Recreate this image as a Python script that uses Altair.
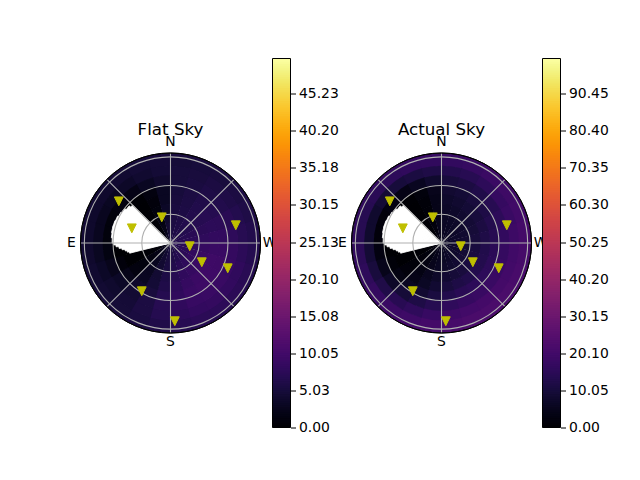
import altair as alt
import numpy as np
import pandas as pd

PX = 90 / 94  # pixels per degree of sky
PW, PH = 252, 369
FONT = "DejaVu Sans"

sector_edges = list(range(0, 361, 15))
ring_edges = [0, 10, 20, 30, 40, 50, 60, 70, 80, 90, 94]

flat_sky = [
 [5.6,5.8,6,6.2,6.4,6.6,6.6,6.6,6.4,6.2,6,5.6,5,4.4,3.6,2.6,1.5,.5,.3,.3,.5,1.5,3,4.6],
 [5.7,6,6.2,6.6,7,7.2,7.4,7.6,7.4,7,6.6,6,5.2,4.2,3.2,1.8,.6,.1,0,0,0,.4,2,4.2],
 [5.6,6,6.4,6.8,7.2,7.6,8,8.2,8.2,7.8,7.2,6.4,5.4,4.2,2.8,1.2,.2,0,0,0,0,.2,1.4,3.8],
 [5.4,5.8,6.4,6.9,7.4,7.9,8.6,9,9,8.6,8,7,5.8,4.4,2.8,1,0,0,0,0,0,.1,1,3.4],
 [5.2,5.7,6.3,7,7.6,8.2,9,9.6,9.6,9.2,8.6,7.6,6.2,4.6,3,1.2,0,0,0,0,0,0,.8,3],
 [5,5.6,6.2,6.8,7.5,8.2,9,9.4,9.6,9.4,9,8,6.8,5.2,3.8,2.2,.8,0,0,0,0,.1,1.2,3],
 [5,5.4,5.9,6.4,7.2,7.8,8.4,8.8,9,9,8.8,8,7,5.6,4.4,3.4,2.4,1.4,.9,.9,1.2,1.8,3,3.9],
 [5,5.2,5.6,6,6.6,7,7.6,8,8.2,8.4,8.2,7.6,6.8,5.6,4.7,4,3.4,2.9,2.7,2.7,3,3.5,4.1,4.6],
 [4.8,5,5.2,5.6,6,6.4,6.8,7.2,7.4,7.6,7.4,7,6.2,5.4,4.8,4.4,4.1,3.9,3.8,3.8,3.9,4.2,4.5,4.7],
 [5.2,5.4,5.6,5.8,6,6.2,6.4,6.6,6.7,6.8,6.8,6.6,6,5.6,5.2,5,4.8,4.6,4.5,4.5,4.6,4.8,5,5.1],
]
actual_sky = [
 [6,6,6,6.4,6.6,6.8,6.8,6.8,6.6,6.4,6.2,6,5.4,4.8,4,3,1.6,.4,.2,.2,.4,1.6,3.4,5],
 [6.2,6.4,6.8,7,7.4,7.6,7.8,7.8,7.6,7.4,7,6.4,5.6,4.6,3.4,2,.6,.1,0,0,0,.4,2.2,4.6],
 [6.4,6.8,7.2,7.8,8.2,8.6,8.8,9,9,8.6,8,7.2,6,4.8,3.2,1.4,.2,0,0,0,0,.2,1.6,4.4],
 [6.8,7.4,8.2,9,9.6,10.2,10.6,10.8,10.8,10.4,9.6,8.6,7.2,5.4,3.4,1.2,0,0,0,0,0,.1,1.2,4.2],
 [7.4,8.2,9.2,10.2,11.2,12,12.6,13,13,12.6,11.8,10.4,8.6,6.4,4,1.6,0,0,0,0,0,0,1,4.2],
 [8.4,9.2,10.4,11.8,13,14,14.8,15.2,15.4,15.2,14.4,12.8,10.8,8.4,6,3,1,0,0,0,0,.2,1.8,4.8],
 [10.2,11.2,12.4,14,15.4,16.4,17.2,17.8,18,17.8,17.2,15.8,13.8,11.8,9.6,7,4.6,2.6,1.6,1.6,2.6,3.6,5.6,8],
 [13,14,15.4,17,18,18.8,19.6,20,20.4,20.4,20,19,17.6,15.8,14.2,12.2,10.4,9,8,8,9,10,11,12],
 [16.4,17.2,18.2,19,19.8,20.4,21,21.4,21.8,22,21.8,21.2,20.4,19.2,18.2,16.8,15.6,14.8,14,14,14.6,15.4,16,16.2],
 [17.6,18,18.6,19.2,19.8,20.4,20.8,21.2,21.6,22,22,21.6,20.8,20,19,18,17,16.4,16,16,16.4,16.8,17,17.2],
]

hole_edges = [256, 258, 260, 262, 264, 266, 268, 270, 275, 280, 285, 290, 295, 300, 305, 310, 315]
hole_reach = [44, 46, 48, 51, 54, 57, 59.5, 61, 62, 62.5, 62.5, 62, 61, 60, 58, 56]

marker_x = [-54, -40.4, -9.1, 20.1, 32.7, 59.8, 68.2, -30, 4.5]
marker_y = [43.5, 15.3, 26.8, -3.4, -20.1, -26.4, 18.5, -50.4, -81.7]

grid_rings = [30, 60, 90]
spoke_bearings = [0, 45, 90, 135, 180, 225, 270, 315]
horizon = 94

compass_text = ["N", "E", "S", "W"]
compass_x = [0, -103.5, 0, 103.5]
compass_y = [105, 0, -103, 0]
flat_ticks = [0.00, 5.03, 10.05, 15.08, 20.10, 25.13, 30.15, 35.18, 40.20, 45.23]
actual_ticks = [0.00, 10.05, 20.10, 30.15, 40.20, 50.25, 60.30, 70.35, 80.40, 90.45]


def sky_cells(table):
    rows = []
    for i, row in enumerate(table):
        for j, v in enumerate(row):
            rows.append(dict(r1=ring_edges[i], r2=ring_edges[i + 1],
                             t1=sector_edges[j], t2=sector_edges[j + 1], v=v))
    df = pd.DataFrame(rows)
    # slight overlap so that no seams show between neighbouring cells
    df["t2"] = df["t2"] + 0.8
    df["r2"] = np.minimum(df["r2"] + 0.8, horizon)
    return df.sort_values(["r1"], ascending=False, kind="mergesort")


THETA = alt.Scale(domain=[0, 360], range=[0, 2 * np.pi])
RAD = alt.Scale(domain=[0, horizon], range=[0, 90])
Y_SCALE = alt.Scale(domain=[-(PH / 2) / PX, (PH / 2) / PX], nice=False, zero=False)
TRI = "M-1,-1L1,-1L0,1Z"


def panel(title, table, top, cx):
    xs = alt.Scale(domain=[-cx / PX, (PW - cx) / PX], nice=False, zero=False)
    X = lambda f: alt.X(f, type="quantitative", scale=xs, axis=None)
    Y = lambda f: alt.Y(f, type="quantitative", scale=Y_SCALE, axis=None)
    centre = dict(x=alt.X(datum=0, type="quantitative", scale=xs, axis=None),
                  y=alt.Y(datum=0, type="quantitative", scale=Y_SCALE, axis=None))
    cscale = alt.Scale(scheme="inferno", domain=[0, top])

    cells = alt.Chart(sky_cells(table)).mark_arc().encode(
        theta=alt.Theta("t1:Q", scale=THETA), theta2="t2:Q",
        radius=alt.Radius("r1:Q", scale=RAD), radius2="r2:Q",
        color=alt.Color("v:Q", scale=cscale, legend=None),
        **centre)

    hole_df = pd.DataFrame(dict(t1=hole_edges[:-1], t2=hole_edges[1:], r1=0, r2=hole_reach))
    hole_df["t2"] = np.minimum(hole_df["t2"] + 2, hole_edges[-1])
    hole = alt.Chart(hole_df).mark_arc(color="white", stroke="white", strokeWidth=0.8).encode(
        theta=alt.Theta("t1:Q", scale=THETA), theta2="t2:Q",
        radius=alt.Radius("r1:Q", scale=RAD), radius2="r2:Q", **centre)

    rings = alt.Chart(pd.DataFrame(dict(r=grid_rings))).mark_arc(
        theta=0, theta2=2 * np.pi, fillOpacity=0, stroke="#b0b0b0", strokeWidth=1.1).encode(
        radius=alt.Radius("r:Q", scale=RAD), radius2="r:Q", **centre)

    rim = alt.Chart(pd.DataFrame(dict(r=[horizon]))).mark_arc(
        theta=0, theta2=2 * np.pi, fillOpacity=0, stroke="black", strokeWidth=1).encode(
        radius=alt.Radius("r:Q", scale=RAD), radius2="r:Q", **centre)

    b = np.radians(spoke_bearings)
    spokes = alt.Chart(pd.DataFrame(dict(x0=0, y0=0, x1=horizon * np.sin(b), y1=horizon * np.cos(b)))).mark_rule(
        color="#b0b0b0", strokeWidth=1.1).encode(x=X("x0"), y=Y("y0"), x2="x1:Q", y2="y1:Q")

    marks = alt.Chart(pd.DataFrame(dict(x=marker_x, y=marker_y))).mark_point(
        shape=TRI, filled=True, color="#bfbf00", size=78, opacity=1, stroke="#bfbf00", strokeWidth=1).encode(x=X("x"), y=Y("y"))

    labels = alt.Chart(pd.DataFrame(dict(x=compass_x, y=compass_y, t=compass_text))).mark_text(
        font=FONT, fontSize=13.9, color="black").encode(x=X("x"), y=Y("y"), text="t:N")

    head = alt.Chart(pd.DataFrame(dict(x=[0], y=[118.5], t=[title]))).mark_text(
        font=FONT, fontSize=16.7, color="black").encode(x=X("x"), y=Y("y"), text="t:N")

    return alt.layer(cells, hole, rings, spokes, rim, marks, labels, head).properties(width=PW, height=PH)


def colorbar(top, ticks):
    levels = np.linspace(0, top, 200)
    step = levels[1]
    df = pd.DataFrame(dict(lo=levels[:-1], hi=np.minimum(levels[1:] + step, top), mid=levels[:-1] + step / 2))
    cscale = alt.Scale(scheme="inferno", domain=[0, top])
    ys = alt.Scale(domain=[0, top], nice=False, zero=True)
    ax = alt.Axis(orient="right", values=ticks, format=".2f", title=None, grid=False,
                  domain=False, tickColor="black", tickSize=5, tickWidth=1,
                  labelColor="black", labelFont=FONT, labelFontSize=13.9, labelPadding=3,
                  labelOverlap=False, labelFlush=False)
    ramp = alt.Chart(df).mark_rect().encode(
        y=alt.Y("lo:Q", scale=ys, axis=ax),
        y2="hi:Q",
        color=alt.Color("mid:Q", scale=cscale, legend=None),
    )
    frame = alt.Chart(pd.DataFrame(dict(lo=[0], hi=[top]))).mark_rect(
        fillOpacity=0, stroke="black", strokeWidth=1).encode(
        y=alt.Y("lo:Q", scale=ys, axis=ax), y2="hi:Q")
    return alt.layer(ramp, frame).properties(width=18, height=PH)


chart = alt.hconcat(
    panel("Flat Sky", flat_sky, 50, 150),
    colorbar(50, flat_ticks),
    panel("Actual Sky", actual_sky, 100, 151),
    colorbar(100, actual_ticks),
    spacing=0, bounds="flush",
).resolve_scale(color="independent", x="independent", y="independent").configure_view(
    stroke="transparent"
).properties(padding={"left": 11.5, "top": 49.5, "right": 0, "bottom": 0}, background="white")

chart.save("out.html", embed_options={"renderer": "svg", "actions": False})
